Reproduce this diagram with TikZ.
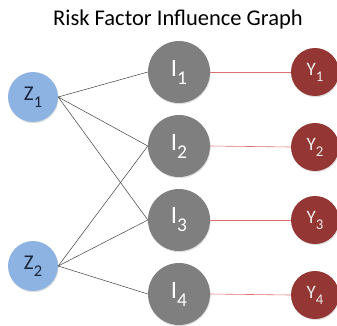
\documentclass[tikz,border=0pt]{standalone}
\usepackage{fontspec}
\setmainfont{Carlito}
\usetikzlibrary{shadows}
\definecolor{zblue}{HTML}{8DB3E2}
\definecolor{igray}{HTML}{7F7F7F}
\definecolor{yred}{HTML}{943634}
\definecolor{ztext}{HTML}{17243A}
\definecolor{redline}{HTML}{E07070}
\newcommand\sbs[1]{\raisebox{-0.32em}{\scalebox{0.78}{#1}}}
\begin{document}
\begin{tikzpicture}[x=1pt,y=-1pt,
  base/.style={circle,inner sep=0pt,drop shadow={opacity=0.25,shadow xshift=0.6pt,shadow yshift=-1.2pt}},
  znode/.style={base,fill=zblue,minimum size=50pt,text=ztext,font=\fontsize{21}{21}\selectfont},
  inode/.style={base,fill=igray,minimum size=62pt,text=white,font=\fontsize{25}{25}\selectfont},
  ynode/.style={base,fill=yred,minimum size=48pt,text=white!92!black,font=\fontsize{19}{19}\selectfont},
  zline/.style={draw=black!75,line width=0.5pt},
  yline/.style={draw=redline,line width=0.6pt}]
\useasboundingbox (0,0) rectangle (337,325);
\node[font=\fontsize{22.5}{22.5}\selectfont] (title) at (178,19) {Risk Factor Influence Graph};
\node[znode] (z1) at (33,97) {Z\sbs{1}};
\node[znode] (z2) at (33,266) {Z\sbs{2}};
\node[inode] (i1) at (179,72) {I\sbs{1}};
\node[inode] (i2) at (179,146) {I\sbs{2}};
\node[inode] (i3) at (179,220) {I\sbs{3}};
\node[inode] (i4) at (179,294) {I\sbs{4}};
\node[ynode] (y1) at (315,72) {Y\sbs{1}};
\node[ynode] (y2) at (315,147) {Y\sbs{2}};
\node[ynode] (y3) at (315,220) {Y\sbs{3}};
\node[ynode] (y4) at (315,295) {Y\sbs{4}};
\foreach \i in {1,2,3} \draw[zline] (z1.east) -- (i\i.west);
\foreach \i in {2,3,4} \draw[zline] (z2.east) -- (i\i.west);
\foreach \i in {1,2,3,4} \draw[yline] (i\i.east) -- (y\i.west);
\end{tikzpicture}
\end{document}
